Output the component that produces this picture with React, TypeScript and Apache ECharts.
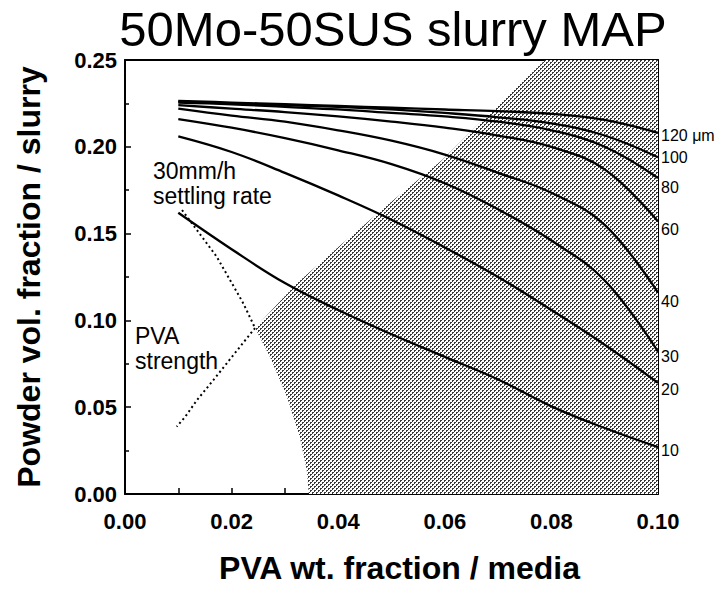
import React, { useEffect, useRef } from "react";
import * as echarts from "echarts";

// ---- data ----
const X_VALUES = [0.01, 0.02, 0.03, 0.04, 0.05, 0.06, 0.07, 0.08, 0.09, 0.1];
const CURVE_NAMES = ["120 μm", "100", "80", "60", "40", "30", "20", "10"];
const Y_120 = [0.2265, 0.2255, 0.2245, 0.2235, 0.2225, 0.2215, 0.2205, 0.219, 0.2155, 0.208];
const Y_100 = [0.226, 0.225, 0.224, 0.223, 0.2215, 0.2195, 0.217, 0.2135, 0.2065, 0.194];
const Y_80 = [0.2255, 0.2245, 0.223, 0.2215, 0.2195, 0.2175, 0.2145, 0.2095, 0.2, 0.182];
const Y_60 = [0.224, 0.222, 0.22, 0.2175, 0.2145, 0.211, 0.2065, 0.2, 0.187, 0.157];
const Y_40 = [0.222, 0.218, 0.2145, 0.2095, 0.2035, 0.1955, 0.185, 0.1735, 0.155, 0.116];
const Y_30 = [0.216, 0.211, 0.205, 0.198, 0.19, 0.179, 0.164, 0.146, 0.123, 0.082];
const Y_20 = [0.206, 0.197, 0.185, 0.172, 0.158, 0.142, 0.125, 0.106, 0.086, 0.064];
const Y_10 = [0.162, 0.141, 0.1215, 0.106, 0.092, 0.079, 0.066, 0.0505, 0.038, 0.027];
const CURVES = [Y_120, Y_100, Y_80, Y_60, Y_40, Y_30, Y_20, Y_10];

const SETTLE_X = [0.0107, 0.0135, 0.0172, 0.0197, 0.0222, 0.0244];
const SETTLE_Y = [0.1636, 0.152, 0.1367, 0.1233, 0.1098, 0.0956];
const STRENGTH_X = [0.0244, 0.0216, 0.0191, 0.0166, 0.0135, 0.0113, 0.0097];
const STRENGTH_Y = [0.0956, 0.0849, 0.0753, 0.0657, 0.0541, 0.0445, 0.0388];

const SHADE_X = [0.0788, 0.069, 0.0595, 0.0497, 0.0409, 0.0323, 0.0244, 0.0272, 0.0304, 0.0328, 0.0341, 0.0345, 0.1, 0.1];
const SHADE_Y = [0.25, 0.2212, 0.1924, 0.1676, 0.1446, 0.1215, 0.0956, 0.0789, 0.0559, 0.0328, 0.0138, 0, 0, 0.25];

const X_TICKS = [0, 0.02, 0.04, 0.06, 0.08, 0.1];
const Y_TICKS = [0, 0.05, 0.1, 0.15, 0.2, 0.25];

// label nudges (style only)
const LABEL_DY = [3, 0, 9, 8, 9, 5, 7, 3];

export default function App() {
  const ref = useRef<HTMLDivElement>(null);
  useEffect(() => {
    if (!ref.current) return;
    const chart = echarts.init(ref.current, null, { renderer: "svg" });

    const cv = document.createElement("canvas");
    cv.width = 4;
    cv.height = 4;
    const ctx = cv.getContext("2d")!;
    ctx.fillStyle = "#ffffff";
    ctx.fillRect(0, 0, 4, 4);
    ctx.fillStyle = "#3a3a3a";
    [[0, 0], [1, 0], [0, 1], [2, 2], [3, 2], [2, 3]].forEach(([px, py]) => ctx.fillRect(px, py, 1, 1));
    const pattern: any = { image: cv.toDataURL(), repeat: "repeat", imageWidth: 4, imageHeight: 4 };

    const font = "'Liberation Sans', Arial, Helvetica, sans-serif";

    const curveSeries = CURVES.map((ys, i) => ({
      type: "line",
      name: CURVE_NAMES[i],
      data: X_VALUES.map((x, j) => [x, ys[j]]),
      smooth: 0.4,
      symbol: "none",
      lineStyle: { color: "#000", width: 2.3 },
      z: 5,
      endLabel: {
        show: true,
        formatter: CURVE_NAMES[i],
        color: "#000",
        fontFamily: font,
        fontSize: 16,
        distance: 3,
        offset: [0, LABEL_DY[i]],
      },
    }));

    const option: any = {
      animation: false,
      backgroundColor: "#fff",
      title: {
        text: "50Mo-50SUS slurry MAP",
        left: 393,
        top: 4,
        padding: 0,
        textAlign: "center",
        textStyle: { fontFamily: font, fontSize: 49, fontWeight: "normal", color: "#000" },
      },
      grid: { left: 125, right: 65, top: 60, bottom: 99, containLabel: false },
      xAxis: [
        {
          type: "value",
          min: X_TICKS[0],
          max: X_TICKS[X_TICKS.length - 1],
          interval: 0.02,
          name: "PVA wt. fraction / media",
          nameLocation: "middle",
          nameGap: 58,
          nameTextStyle: { fontFamily: font, fontSize: 32, fontWeight: "bold", color: "#000", padding: [0, 0, 0, 16] },
          axisLine: { show: true, lineStyle: { color: "#000", width: 2 } },
          axisTick: { show: true, inside: true, length: 6, lineStyle: { color: "#000", width: 1.5 } },
          minorTick: { show: true, splitNumber: 2, length: 6, lineStyle: { color: "#000", width: 1.5 } },
          splitLine: { show: false },
          axisLabel: {
            margin: 16,
            color: "#000",
            fontFamily: font,
            fontSize: 22,
            fontWeight: "bold",
            formatter: (v: number) => v.toFixed(2),
          },
        },
        {
          type: "value",
          position: "top",
          min: 0,
          max: 0.1,
          axisLine: { show: true, onZero: false, lineStyle: { color: "#000", width: 2 } },
          axisTick: { show: false },
          axisLabel: { show: false },
          splitLine: { show: false },
        },
      ],
      yAxis: [
        {
          type: "value",
          min: Y_TICKS[0],
          max: Y_TICKS[Y_TICKS.length - 1],
          interval: 0.05,
          name: "Powder vol. fraction / slurry",
          nameLocation: "middle",
          nameGap: 80,
          nameTextStyle: { fontFamily: font, fontSize: 32, fontWeight: "bold", color: "#000" },
          axisLine: { show: true, lineStyle: { color: "#000", width: 2 } },
          axisTick: { show: true, inside: true, length: 6, lineStyle: { color: "#000", width: 1.5 } },
          minorTick: { show: true, splitNumber: 2, length: 4, lineStyle: { color: "#000", width: 1.5 } },
          splitLine: { show: false },
          axisLabel: {
            margin: 8,
            padding: [10, 0, 0, 0],
            color: "#000",
            fontFamily: font,
            fontSize: 22,
            fontWeight: "bold",
            formatter: (v: number) => v.toFixed(2),
          },
        },
        {
          type: "value",
          position: "right",
          min: 0,
          max: 0.25,
          axisLine: { show: true, onZero: false, lineStyle: { color: "#000", width: 2 } },
          axisTick: { show: false },
          axisLabel: { show: false },
          splitLine: { show: false },
        },
      ],
      series: [
        {
          type: "custom",
          name: "shade",
          silent: true,
          z: 1,
          data: [0],
          renderItem: (_p: any, api: any) => {
            const pts = SHADE_X.map((x, i) => api.coord([x, SHADE_Y[i]]));
            return { type: "polygon", shape: { points: pts }, style: { fill: pattern, stroke: null } };
          },
        },
        ...curveSeries,
        {
          type: "line",
          name: "30mm/h settling rate",
          data: SETTLE_X.map((x, i) => [x, SETTLE_Y[i]]),
          symbol: "none",
          lineStyle: { color: "#000", width: 2, type: [2, 3] },
          z: 4,
        },
        {
          type: "line",
          name: "PVA strength",
          data: STRENGTH_X.map((x, i) => [x, STRENGTH_Y[i]]),
          symbol: "none",
          lineStyle: { color: "#000", width: 2, type: [2, 3] },
          z: 4,
        },
      ],
      graphic: [
        { type: "text", left: 153, top: 158, style: { text: "30mm/h\nsettling rate", fontFamily: font, fontSize: 23, lineHeight: 25, fill: "#000" } },
        { type: "text", left: 135, top: 323, style: { text: "PVA\nstrength", fontFamily: font, fontSize: 23, lineHeight: 25, fill: "#000" } },
      ],
    };
    chart.setOption(option);
    return () => chart.dispose();
  }, []);
  return <div ref={ref} style={{ position: "absolute", left: 0, top: 0, width: 723, height: 593 }} />;
}
